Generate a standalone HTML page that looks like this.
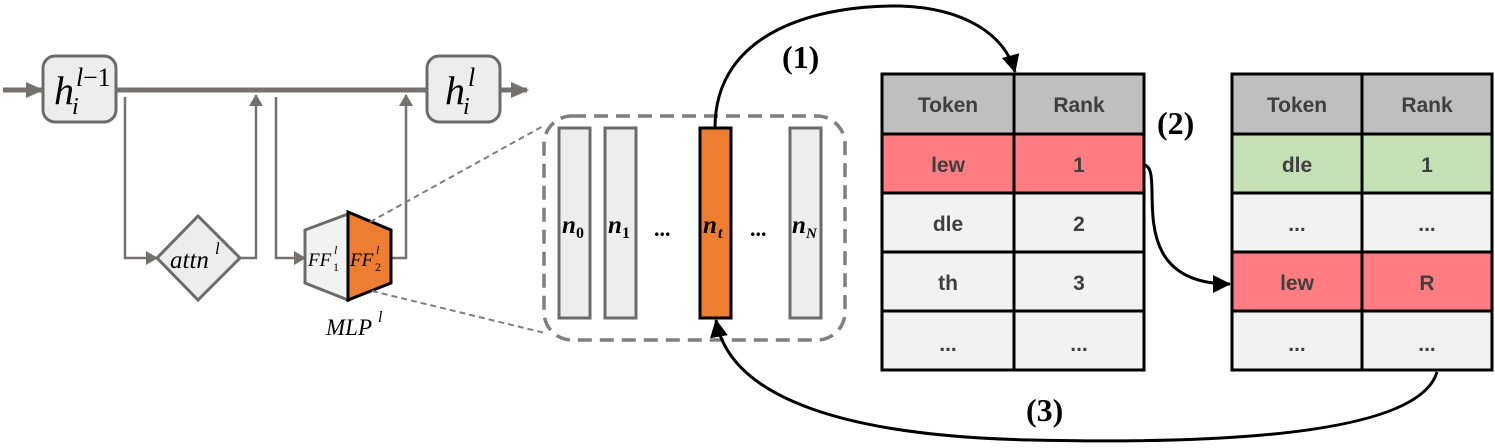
<!DOCTYPE html>
<html><head><meta charset="utf-8"><style>
html,body{margin:0;padding:0;background:#fff;}
svg{display:block;}
.m{font-family:"Liberation Serif",serif;font-style:italic;}
.t{font-family:"Liberation Sans",sans-serif;font-weight:bold;fill:#3f3f3f;font-size:21px;}
.b{font-family:"Liberation Serif",serif;font-weight:bold;font-size:32px;}
</style></head><body>
<svg width="1495" height="448" viewBox="0 0 1495 448" xmlns="http://www.w3.org/2000/svg">
<defs>
<marker id="gb" markerWidth="18" markerHeight="18" refX="16" refY="9" orient="auto" markerUnits="userSpaceOnUse"><path d="M0,1 L18,9 L0,17 z" fill="#767171"/></marker>
<marker id="ga" markerWidth="12" markerHeight="14" refX="11" refY="7" orient="auto" markerUnits="userSpaceOnUse"><path d="M0,0 L12,7 L0,14 z" fill="#767171"/></marker>
<marker id="ka" markerWidth="18" markerHeight="18" refX="17" refY="9" orient="auto" markerUnits="userSpaceOnUse"><path d="M0,0 L18,9 L0,18 z" fill="#000"/></marker>
</defs>
<!-- main line -->
<line x1="3" y1="90" x2="42" y2="90" stroke="#767171" stroke-width="5" marker-end="url(#gb)"/>
<line x1="116" y1="90" x2="427" y2="90" stroke="#767171" stroke-width="5"/>
<line x1="500" y1="90" x2="527" y2="90" stroke="#767171" stroke-width="5" marker-end="url(#gb)"/>
<rect x="43" y="56" width="73" height="66" rx="12" fill="#ededed" stroke="#6b6b6b" stroke-width="3"/>
<text x="54" y="104" class="m" font-size="40">h</text><text x="72" y="114" class="m" font-size="24">i</text><text x="76" y="86" class="m" font-size="26">l</text><text x="83" y="86" font-family="Liberation Serif" font-size="26">−1</text>
<rect x="427" y="56" width="73" height="66" rx="12" fill="#ededed" stroke="#6b6b6b" stroke-width="3"/>
<text x="445" y="104" class="m" font-size="40">h</text><text x="463" y="114" class="m" font-size="24">i</text><text x="468" y="86" class="m" font-size="26">l</text>
<!-- attn branch -->
<polyline points="125,97 125,258 157,258" fill="none" stroke="#767171" stroke-width="2.5" marker-end="url(#ga)"/>
<polyline points="240,258 256,258 256,95" fill="none" stroke="#767171" stroke-width="2.5" marker-end="url(#ga)"/>
<polygon points="198,216 240,258 198,300 157,258" fill="#ededed" stroke="#6b6b6b" stroke-width="3"/>
<text x="170" y="268" class="m" font-size="25">attn</text><text x="215" y="254" class="m" font-size="17">l</text>
<!-- mlp branch -->
<polyline points="276,97 276,258 305,258" fill="none" stroke="#767171" stroke-width="2.5" marker-end="url(#ga)"/>
<polyline points="391,258 406,258 406,95" fill="none" stroke="#767171" stroke-width="2.5" marker-end="url(#ga)"/>
<polygon points="305,230 348,214 348,300 305,283" fill="#f2f2f2" stroke="#6b6b6b" stroke-width="3"/>
<polygon points="348,212 391,230 391,283 348,300" fill="#ed7d31" stroke="#000" stroke-width="3"/>
<text x="308" y="266" class="m" font-size="19">FF</text><text x="333" y="271" font-family="Liberation Serif" font-size="12">1</text><text x="334" y="254" class="m" font-size="12">l</text>
<text x="350" y="266" class="m" font-size="19">FF</text><text x="375" y="271" font-family="Liberation Serif" font-size="12">2</text><text x="376" y="254" class="m" font-size="12">l</text>
<text x="326" y="335" class="m" font-size="23">MLP</text><text x="378" y="322" class="m" font-size="16">l</text>
<!-- dashed zoom lines -->
<line x1="370" y1="222" x2="545" y2="125" stroke="#7f7f7f" stroke-width="2" stroke-dasharray="6,4"/>
<line x1="372" y1="291" x2="545" y2="333" stroke="#7f7f7f" stroke-width="2" stroke-dasharray="6,4"/>
<rect x="544" y="116" width="301" height="224" rx="28" fill="none" stroke="#7f7f7f" stroke-width="3.5" stroke-dasharray="14,8"/>
<!-- neuron bars -->
<rect x="559" y="128" width="31" height="190" fill="#ededed" stroke="#6b6b6b" stroke-width="3"/>
<rect x="605" y="128" width="31" height="190" fill="#ededed" stroke="#6b6b6b" stroke-width="3"/>
<rect x="700" y="128" width="31" height="190" fill="#ed7d31" stroke="#000" stroke-width="3"/>
<rect x="790" y="128" width="31" height="190" fill="#ededed" stroke="#6b6b6b" stroke-width="3"/>
<g font-family="Liberation Serif" font-weight="bold" font-style="italic">
<text x="562" y="233" font-size="25">n</text><text x="576" y="238" font-size="16" font-style="normal">0</text>
<text x="608" y="233" font-size="25">n</text><text x="622" y="238" font-size="16" font-style="normal">1</text>
<text x="703" y="233" font-size="25">n</text><text x="718" y="238" font-size="16">t</text>
<text x="792" y="233" font-size="25">n</text><text x="806" y="238" font-size="15">N</text>
<text x="654" y="236" font-size="22" font-style="normal">...</text>
<text x="750" y="236" font-size="22" font-style="normal">...</text>
</g>
<!-- tables -->
<g stroke="#000" stroke-width="3">
<rect x="882" y="74" width="262" height="60" fill="#bfbfbf"/>
<rect x="882" y="134" width="262" height="59" fill="#ff7c80"/>
<rect x="882" y="193" width="262" height="59" fill="#f2f2f2"/>
<rect x="882" y="252" width="262" height="59" fill="#f2f2f2"/>
<rect x="882" y="311" width="262" height="59" fill="#f2f2f2"/>
<line x1="1014" y1="74" x2="1014" y2="370"/>
<rect x="1232" y="74" width="260" height="60" fill="#bfbfbf"/>
<rect x="1232" y="134" width="260" height="59" fill="#c5e0b4"/>
<rect x="1232" y="193" width="260" height="59" fill="#f2f2f2"/>
<rect x="1232" y="252" width="260" height="59" fill="#ff7c80"/>
<rect x="1232" y="311" width="260" height="59" fill="#f2f2f2"/>
<line x1="1362" y1="74" x2="1362" y2="370"/>
</g>
<g class="t" text-anchor="middle">
<text x="948" y="112">Token</text><text x="1079" y="112">Rank</text>
<text x="948" y="172">lew</text><text x="1079" y="172">1</text>
<text x="948" y="231">dle</text><text x="1079" y="231">2</text>
<text x="948" y="290">th</text><text x="1079" y="290">3</text>
<text x="948" y="351">...</text><text x="1079" y="351">...</text>
<text x="1297" y="112">Token</text><text x="1427" y="112">Rank</text>
<text x="1297" y="172">dle</text><text x="1427" y="172">1</text>
<text x="1297" y="231">...</text><text x="1427" y="231">...</text>
<text x="1297" y="290">lew</text><text x="1427" y="290">R</text>
<text x="1297" y="351">...</text><text x="1427" y="351">...</text>
</g>
<!-- curves -->
<path d="M715,128 C715,30 820,5 900,6 C965,8 1005,35 1015,72" fill="none" stroke="#000" stroke-width="3" marker-end="url(#ka)"/>
<path d="M1144,165 C1168,168 1118,284 1230,284" fill="none" stroke="#000" stroke-width="3" marker-end="url(#ka)"/>
<path d="M1437,372 C1420,430 1250,445 1030,440 C850,436 730,400 716,320" fill="none" stroke="#000" stroke-width="3" marker-end="url(#ka)"/>
<text x="782" y="68" class="b">(1)</text>
<text x="1157" y="134" class="b">(2)</text>
<text x="1026" y="421" class="b">(3)</text>
</svg>
</body></html>
